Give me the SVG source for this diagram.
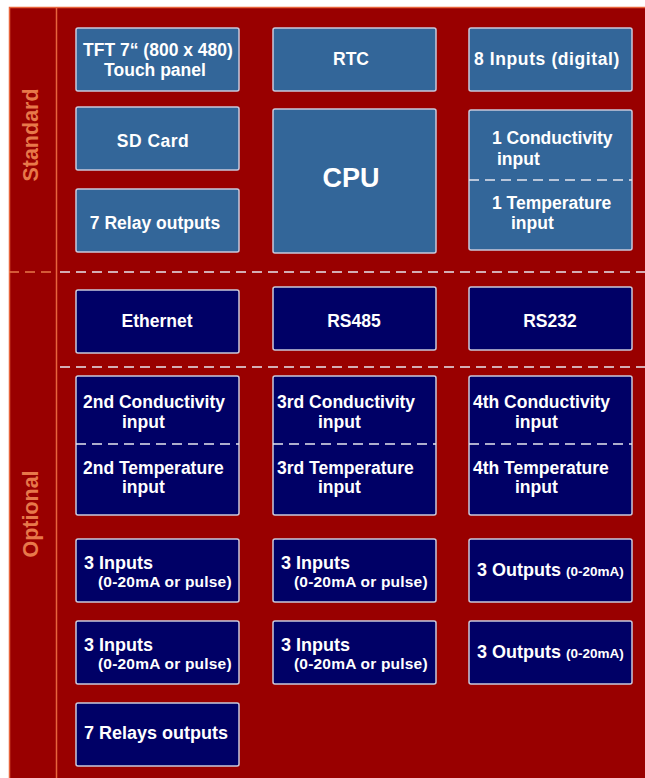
<svg xmlns="http://www.w3.org/2000/svg" width="645" height="778" viewBox="0 0 645 778">
<style>
.std{fill:#336699;stroke:#c9c9dc;stroke-width:1.5}
.opt{fill:#000066;stroke:#c9c9dc;stroke-width:1.5}
text{font-family:"Liberation Sans",Arial,sans-serif;font-weight:bold;fill:#ffffff;font-size:17.5px}
.c{text-anchor:middle}
.sub{font-size:15.5px;letter-spacing:0.2px}
.sm{font-size:13.5px}
.side{fill:#e8784a;font-size:21.5px;text-anchor:middle}
.dash{stroke:#e6e6f0;stroke-width:1.5;stroke-dasharray:10 6;fill:none}
.odash{stroke:#e8784a;stroke-width:1.5;stroke-dasharray:10 6;fill:none}
.orange{stroke:#e8643c;stroke-width:1.5;fill:none}
</style>
<rect x="0" y="0" width="645" height="778" fill="#ffffff"/>
<rect x="9" y="7" width="636" height="771" fill="#990000"/>
<path class="orange" d="M9.5 778V7.5H645M56.5 7.5V778"/>
<g id="labels">
<text class="side" transform="translate(38 135) rotate(-90)">Standard</text>
<text class="side" transform="translate(38 514) rotate(-90)">Optional</text>
</g>
<g id="separators">
<path class="odash" d="M9 272H56"/>
<path class="dash" d="M60 272H645"/>
<path class="dash" d="M60 367H645"/>
</g>
<g id="tft"><rect class="std" x="76" y="28" width="163" height="63" rx="2"/><text class="c" x="158" y="56">TFT 7“ (800 x 480)</text><text class="c" x="155" y="76">Touch panel</text></g>
<g id="rtc"><rect class="std" x="273" y="28" width="163" height="63" rx="2"/><text class="c" x="351" y="65">RTC</text></g>
<g id="digital"><rect class="std" x="469" y="28" width="163" height="63" rx="2"/><text class="c" x="547" y="65" style="letter-spacing:0.6px">8 Inputs (digital)</text></g>
<g id="sd"><rect class="std" x="76" y="107" width="163" height="63" rx="2"/><text class="c" x="153" y="147" style="letter-spacing:0.5px">SD Card</text></g>
<g id="cpu"><rect class="std" x="273" y="109" width="163" height="144" rx="2"/><text class="c" x="351" y="187" style="font-size:27px">CPU</text></g>
<g id="cond1"><rect class="std" x="469" y="110" width="163" height="140" rx="2"/><path class="dash" d="M469 180H632"/><text x="492" y="144">1 Conductivity</text><text x="497" y="165">input</text><text x="492" y="209">1 Temperature</text><text x="511" y="229">input</text></g>
<g id="relay"><rect class="std" x="76" y="189" width="163" height="63" rx="2"/><text class="c" x="155" y="229">7 Relay outputs</text></g>
<g id="ethernet"><rect class="opt" x="76" y="290" width="163" height="63" rx="2"/><text class="c" x="157" y="327">Ethernet</text></g>
<g id="rs485"><rect class="opt" x="273" y="287" width="163" height="63" rx="2"/><text class="c" x="354" y="327">RS485</text></g>
<g id="rs232"><rect class="opt" x="469" y="287" width="163" height="63" rx="2"/><text class="c" x="550" y="327">RS232</text></g>
<g id="cond2"><rect class="opt" x="76" y="376" width="163" height="139" rx="2"/><path class="dash" d="M76 444H239"/><text x="83" y="408">2nd Conductivity</text><text x="122" y="428">input</text><text x="83" y="474">2nd Temperature</text><text x="122" y="493">input</text></g>
<g id="cond3"><rect class="opt" x="273" y="376" width="163" height="139" rx="2"/><path class="dash" d="M273 444H436"/><text x="277" y="408">3rd Conductivity</text><text x="318" y="428">input</text><text x="277" y="474">3rd Temperature</text><text x="318" y="493">input</text></g>
<g id="cond4"><rect class="opt" x="469" y="376" width="163" height="139" rx="2"/><path class="dash" d="M469 444H632"/><text x="473" y="408">4th Conductivity</text><text x="515" y="428">input</text><text x="473" y="474">4th Temperature</text><text x="515" y="493">input</text></g>
<g id="in1"><rect class="opt" x="76" y="539" width="163" height="63" rx="2"/><text x="84" y="569" style="font-size:18px">3 Inputs</text><text class="sub" x="98" y="587">(0-20mA or pulse)</text></g>
<g id="in2"><rect class="opt" x="273" y="539" width="163" height="63" rx="2"/><text x="281" y="569" style="font-size:18px">3 Inputs</text><text class="sub" x="294" y="587">(0-20mA or pulse)</text></g>
<g id="out1"><rect class="opt" x="469" y="539" width="163" height="63" rx="2"/><text x="477" y="576" style="font-size:18px">3 Outputs <tspan class="sm">(0-20mA)</tspan></text></g>
<g id="in3"><rect class="opt" x="76" y="621" width="163" height="63" rx="2"/><text x="84" y="651" style="font-size:18px">3 Inputs</text><text class="sub" x="98" y="669">(0-20mA or pulse)</text></g>
<g id="in4"><rect class="opt" x="273" y="621" width="163" height="63" rx="2"/><text x="281" y="651" style="font-size:18px">3 Inputs</text><text class="sub" x="294" y="669">(0-20mA or pulse)</text></g>
<g id="out2"><rect class="opt" x="469" y="621" width="163" height="63" rx="2"/><text x="477" y="658" style="font-size:18px">3 Outputs <tspan class="sm">(0-20mA)</tspan></text></g>
<g id="relays"><rect class="opt" x="76" y="703" width="163" height="63" rx="2"/><text x="84" y="739" style="font-size:18px">7 Relays outputs</text></g>
</svg>
